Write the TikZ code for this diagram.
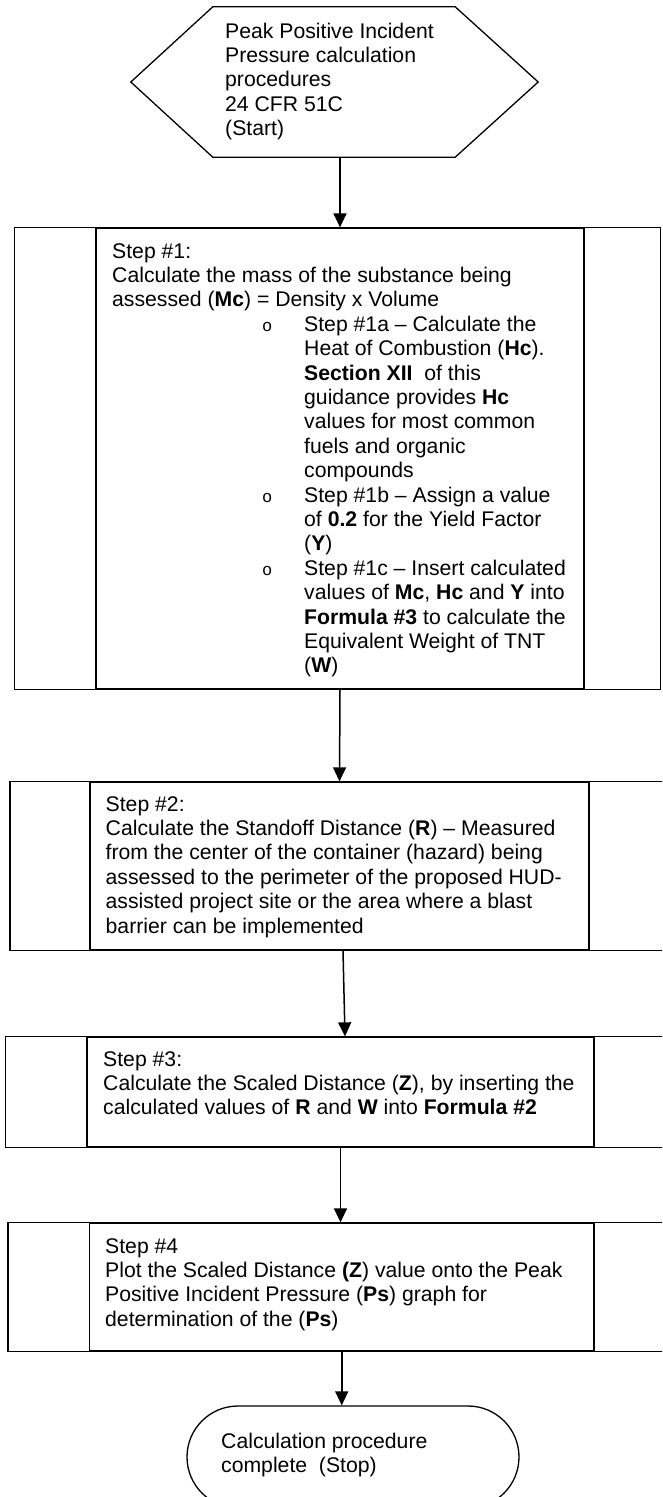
\documentclass[tikz,border=0pt]{standalone}
\usepackage{fontspec}
\setmainfont{Liberation Sans}
\newfontfamily\bulfont{Liberation Mono}
\usepackage{tikz}
\usetikzlibrary{arrows.meta}

\newcommand{\bul}{\hspace*{150pt}\makebox[42pt][l]{\bulfont\fontsize{17}{17}\selectfont o}}
\newcommand{\ind}{\hspace*{192pt}}

\begin{document}
\begin{tikzpicture}[x=1pt,y=-1pt,
stepbox/.style={draw,rectangle,line width=1.3pt,inner sep=0},
txt/.style={inner sep=0,anchor=base west,align=left,font=\fontsize{21.2}{24.4}\selectfont},
flow/.style={line width=1.5pt,-{Triangle[width=13pt,length=14pt]}}]
\useasboundingbox (0,0) rectangle (662,1497);
\clip (0,0) rectangle (662,1497);

% start (text nodes sit on their last baseline)
\node (start) [minimum width=407pt,minimum height=150pt,inner sep=0] at (334.5,82) {};
\draw[line width=1.3pt] (start.west) -- ([xshift=82pt]start.north west)
  -- ([xshift=-83pt]start.north east) -- (start.east)
  -- ([xshift=-83pt]start.south east) -- ([xshift=82pt]start.south west) -- cycle;
\node (starttxt) [txt] at (225,135.6) {Peak Positive Incident\\Pressure calculation\\procedures\\24 CFR 51C\\(Start)};

% step 1
\node (step1) [stepbox,minimum width=488pt,minimum height=461pt] at (340,458.5) {};
\draw[line width=1.3pt] (step1.north west) -- ++(-81,0) |- (step1.south west);
\draw[line width=1.3pt] (step1.north east) -- ++(76,0) |- (step1.south east);
\node (step1txt) [txt] at (112,672.8) {Step \#1:\\
Calculate the mass of the substance being\\
assessed (\textbf{Mc}) = Density x Volume\\
\bul Step \#1a – Calculate the\\
\ind Heat of Combustion (\textbf{Hc}).\\
\ind \textbf{Section XII}\ \ of this\\
\ind guidance provides \textbf{Hc}\\
\ind values for most common\\
\ind fuels and organic\\
\ind compounds\\
\bul Step \#1b – Assign a value\\
\ind of \textbf{0.2} for the Yield Factor\\
\ind (\textbf{Y})\\
\bul Step \#1c – Insert calculated\\
\ind values of \textbf{Mc}, \textbf{Hc} and \textbf{Y} into\\
\ind \textbf{Formula \#3} to calculate the\\
\ind Equivalent Weight of TNT\\
\ind (\textbf{W})};

% step 2
\node (step2) [stepbox,minimum width=499pt,minimum height=168pt] at (339.5,866) {};
\draw[line width=1.3pt] (step2.north west) -- ++(-79.5,0) |- (step2.south west);
\draw[line width=1.3pt] (step2.north east) -- ++(90,0) |- (step2.south east);
\node (step2txt) [txt] at (105.5,933) {Step \#2:\\
Calculate the Standoff Distance (\textbf{R}) – Measured\\
from the center of the container (hazard) being\\
assessed to the perimeter of the proposed HUD-\\
assisted project site or the area where a blast\\
barrier can be implemented};

% step 3
\node (step3) [stepbox,minimum width=507pt,minimum height=110pt] at (340.5,1092) {};
\draw[line width=1.3pt] (step3.north west) -- ++(-81,0) |- (step3.south west);
\draw[line width=1.3pt] (step3.north east) -- ++(90,0) |- (step3.south east);
\node (step3txt) [txt] at (103,1114.8) {Step \#3:\\
Calculate the Scaled Distance (\textbf{Z}), by inserting the\\
calculated values of \textbf{R} and \textbf{W} into \textbf{Formula \#2}};

% step 4
\node (step4) [stepbox,minimum width=504.5pt,minimum height=128pt] at (341.75,1287) {};
\draw[line width=1.3pt] (step4.north west) -- ++(-81,0) |- (step4.south west);
\draw[line width=1.3pt] (step4.north east) -- ++(90,0) |- (step4.south east);
\node (step4txt) [txt] at (105,1326.2) {Step \#4\\
Plot the Scaled Distance \textbf{(Z}) value onto the Peak\\
Positive Incident Pressure (\textbf{Ps}) graph for\\
determination of the (\textbf{Ps})};

% stop
\node (stop) [draw,line width=1.3pt,rounded corners=51pt,minimum width=332pt,minimum height=102pt] at (353,1457) {};
\node (stoptxt) [txt] at (221,1472.4) {Calculation procedure\\complete\ \ (Stop)};

% connectors
\draw[flow] (start.south -| step1.north) -- (step1.north);
\draw[flow] (step1.south) -- (step2.north);
\draw[flow] ([xshift=3.5pt]step2.south) -- ([xshift=4.5pt]step3.north);
\draw[flow] (step3.south) -- (step3.south |- step4.north);
\draw[flow] (step4.south) -- (step4.south |- stop.north);
\end{tikzpicture}
\end{document}
